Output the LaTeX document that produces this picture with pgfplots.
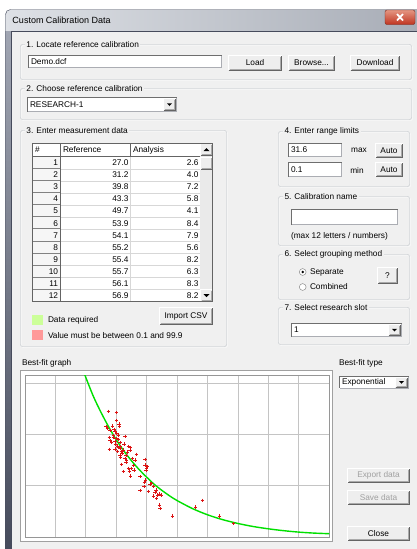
\documentclass[border=0pt]{standalone}
\usepackage{pgfplots}
\pgfplotsset{compat=1.18}
\usepackage{fontspec}
\setmainfont{Liberation Sans}
\definecolor{bg}{RGB}{240,240,240}
\definecolor{grp}{RGB}{188,192,198}
\definecolor{fldc}{RGB}{171,173,179}
\definecolor{flddk}{RGB}{110,110,110}
\definecolor{btnface}{RGB}{238,238,238}
\definecolor{btndk}{RGB}{100,100,100}
\definecolor{btnmid}{RGB}{170,170,170}
\definecolor{fitgreen}{RGB}{0,224,0}
\definecolor{ptred}{RGB}{220,20,20}
\definecolor{tbl}{RGB}{222,225,230}
\definecolor{tbr}{RGB}{165,170,180}
\definecolor{framec}{RGB}{160,165,178}
\definecolor{framedk}{RGB}{70,75,92}
\definecolor{gridc}{RGB}{196,196,196}
\definecolor{reqgreen}{RGB}{204,255,153}
\definecolor{badred}{RGB}{255,153,153}
\definecolor{closetop}{RGB}{228,150,130}
\definecolor{closebot}{RGB}{192,52,32}
\definecolor{closedk}{RGB}{120,40,30}
\definecolor{rowln}{RGB}{215,215,215}
\definecolor{celldk}{RGB}{130,130,130}
\definecolor{numbg}{RGB}{246,246,246}
\definecolor{trk}{RGB}{234,234,234}
\definecolor{radc}{RGB}{120,120,120}
\definecolor{disab}{RGB}{160,160,160}
\definecolor{gframe}{RGB}{160,160,160}
\definecolor{axc}{RGB}{150,150,150}
\newcommand\ui{\fontsize{8.3}{10}\selectfont}
% button: [text colour]{x1}{y1}{x2}{y2}{text}
\newcommand\btn[6][black]{%
  \fill[btnface] (#2,#3) rectangle (#4,#5);
  \draw[white] (#2+0.5,#5-0.5) -- (#2+0.5,#3+0.5) -- (#4-0.5,#3+0.5);
  \draw[btndk] (#2+0.5,#5-0.5) -- (#4-0.5,#5-0.5) -- (#4-0.5,#3+0.5);
  \draw[btnmid] (#2+1.5,#5-1.5) -- (#4-1.5,#5-1.5) -- (#4-1.5,#3+1.5);
  \node[text=#1] at ({(#2+#4)/2},{(#3+#5)/2}) {#6};
}
% field: {x1}{y1}{x2}{y2}{text}
\newcommand\fld[5]{%
  \fill[white] (#1,#2) rectangle (#3,#4);
  \draw[fldc] (#1+0.5,#4-0.5) -- (#3-0.5,#4-0.5) -- (#3-0.5,#2+0.5);
  \draw[flddk] (#1+0.5,#4-0.5) -- (#1+0.5,#2+0.5) -- (#3-0.5,#2+0.5);
  \node[anchor=west] at (#1+3,{(#2+#4)/2}) {#5};
}
% combo
\newcommand\combo[5]{%
  \fld{#1}{#2}{#3}{#4}{#5}
  \btn{#3-14}{#2+1}{#3-1}{#4-1}{}
  \fill[black] (#3-10,{(#2+#4)/2-1.2}) -- (#3-5,{(#2+#4)/2-1.2}) -- (#3-7.5,{(#2+#4)/2+1.5}) -- cycle;
}
% group box
\newcommand\grp[5]{%
  \draw[white,rounded corners=2pt] (#1+1.5,#2+1.5) rectangle (#3+0.5,#4+0.5);
  \draw[grp,rounded corners=2pt] (#1+0.5,#2+0.5) rectangle (#3-0.5,#4-0.5);
  \node[anchor=west,fill=bg,inner xsep=1.5pt,inner ysep=1pt] at (#1+5,#2+0.5) {#5};
}
\begin{document}
\begin{tikzpicture}
\begin{scope}[x=1pt,y=-1pt,every node/.style={font=\ui,inner sep=0pt,outer sep=0pt}]
\path[use as bounding box] (0,0) rectangle (417,549);
\fill[white] (0,0) rectangle (417,549);
% window frame
\shade[left color=tbl,right color=tbr,rounded corners=5pt] (5,9.5) rectangle (440,570);
\shade[top color=framec,bottom color=framedk] (5,31) rectangle (11,549);
\draw[framedk,rounded corners=5pt] (5.5,570) -- (5.5,9.5) -- (440,9.5);
\fill[bg] (11,31) rectangle (417,549);
\draw[framedk] (11,549) -- (11,31) -- (417,31);
\node[anchor=west,font=\fontsize{9}{11}\selectfont] at (12.5,20.5) {Custom Calibration Data};
% close button
\shade[top color=closetop,bottom color=closebot,rounded corners=2pt] (385,10) rectangle (415,24.5);
\draw[closedk,rounded corners=2pt] (385,10) rectangle (415,24.5);
\draw[white,line width=1.7pt] (397,14) -- (403,20.5) (403,14) -- (397,20.5);

% group 1
\grp{20}{44}{412}{80}{1. Locate reference calibration}
\fld{28}{55}{222}{68}{Demo.dcf}
\btn{228}{55}{282}{70.5}{Load}
\btn{288}{55}{335}{70.5}{Browse...}
\btn{350}{55}{400}{70.5}{Download}
% group 2
\grp{20}{88}{412}{120}{2. Choose reference calibration}
\combo{27}{97}{177}{112}{RESEARCH-1}
% group 3
\grp{20}{130}{227}{347}{3. Enter measurement data}
\fill[white] (32,143) rectangle (213,302);
\fill[numbg] (32,156.7) rectangle (60,302);
\foreach \i in {1,...,12} {
  \pgfmathsetmacro\yl{156.7+\i*12.08}
  \draw[rowln] (60,\yl) -- (200,\yl);
  \draw[celldk,line width=0.9pt] (33,\yl-0.3) -- (60,\yl-0.3);
}
\draw[rowln] (130.5,156.7) -- (130.5,302);
\draw[btndk] (130.5,143) -- (130.5,156.7);
\draw[btndk] (60.5,143) -- (60.5,302);
\draw[btndk] (32,156.5) -- (200,156.5);
\node[anchor=west] at (35,150) {\#};
\node[anchor=west] at (63,150) {Reference};
\node[anchor=west] at (133,150) {Analysis};
\foreach \n/\r/\a in {1/27.0/2.6,2/31.2/4.0,3/39.8/7.2,4/43.3/5.8,5/49.7/4.1,6/53.9/8.4,7/54.1/7.9,8/55.2/5.6,9/55.4/8.2,10/55.7/6.3,11/56.1/8.3,12/56.9/8.2} {
  \pgfmathsetmacro\yc{156.7+(\n-0.5)*12.08}
  \node[anchor=east] at (58,\yc) {\n};
  \node[anchor=east] at (128.5,\yc) {\r};
  \node[anchor=east] at (198.5,\yc) {\a};
}
% scrollbar
\fill[trk] (200,143) rectangle (213,302);
\btn{200}{143}{213}{156}{}
\fill[black] (203.5,151.2) -- (209.5,151.2) -- (206.5,148) -- cycle;
\btn{200}{156.5}{213}{170}{}
\btn{200}{289}{213}{302}{}
\fill[black] (203.5,294) -- (209.5,294) -- (206.5,297.2) -- cycle;
\draw[btndk] (32.5,143.5) rectangle (212.5,301.5);
% legend
\fill[reqgreen] (32,315) rectangle (43,325);
\fill[badred] (32,330) rectangle (43,340);
\node[anchor=west] at (48,320.5) {Data required};
\node[anchor=west] at (48,335.5) {Value must be between 0.1 and 99.9};
\btn{159}{307}{213}{325}{Import CSV}
% group 4
\grp{278}{131}{410}{187}{4. Enter range limits}
\fld{288}{143}{342}{157}{31.6}
\node at (359,150.5) {max};
\btn{375}{143}{403}{158}{Auto}
\fld{288}{162}{342}{177}{0.1}
\node at (357,170) {min};
\btn{375}{162}{403}{177}{Auto}
% group 5
\grp{278}{196}{410}{246}{5. Calibration name}
\fld{291}{209}{398}{225}{}
\node[anchor=west] at (291,236.5) {(max 12 letters / numbers)};
% group 6
\grp{278}{254}{410}{300}{6. Select grouping method}
\draw[fill=white,draw=radc] (302.7,272) circle (3.4);
\fill[black] (302.7,272) circle (1.4);
\draw[fill=white,draw=radc] (302.7,287) circle (3.4);
\node[anchor=west] at (310,272) {Separate};
\node[anchor=west] at (310,287) {Combined};
\btn{377}{267}{398}{284}{?}
% group 7
\grp{278}{307}{410}{345}{7. Select research slot}
\combo{291}{323}{402}{337}{1}
% bottom
\node[anchor=west] at (22,363) {Best-fit graph};
\node[anchor=west] at (339,363) {Best-fit type};
\combo{339}{376}{409}{388.5}{Exponential}
\btn[disab]{347}{468}{410}{483}{Export data}
\btn[disab]{347}{490}{410}{505}{Save data}
\btn{347}{526}{410}{541}{Close}
% graph frame
\fill[white] (20,370) rectangle (333,542);
\draw[gframe] (20.5,370.5) rectangle (332.5,541.5);
\end{scope}
\begin{axis}[at={(25pt,-537.3pt)},anchor=south west,scale only axis,
  width=304.3pt,height=162.3pt,
  xmin=0,xmax=10,ymin=0,ymax=31.6,
  xtick={1,2,3,4,5,6,7,8,9},ytick={10,20,30},
  xticklabels={},yticklabels={},
  major tick length=0pt,
  grid=major,major grid style={draw=gridc,line width=1pt},
  axis line style={draw=axc},
  axis background/.style={fill=white},
  clip=true]
\addplot[color=fitgreen,line width=1.4pt,smooth] coordinates {
(1.85,33.5)(2.0,31.1)(2.25,27.4)(2.5,24.3)(2.75,21.5)(3.0,19.0)(3.25,16.8)(3.5,14.9)(3.75,13.2)(4.0,11.7)(4.25,10.3)(4.5,9.13)(4.75,8.08)(5.0,7.15)(5.5,5.60)(6.0,4.38)(6.5,3.43)(7.0,2.69)(7.5,2.10)(8.0,1.65)(8.5,1.29)(9.0,1.01)(9.5,0.82)(10,0.70)};
\addplot[only marks,mark=+,mark size=1.7pt,color=ptred,line width=0.8pt] coordinates {
(2.739,24.52)(3.001,24.26)(3.012,22.71)(3.089,22.06)(3.100,21.67)(2.662,21.54)(2.706,21.15)(2.793,20.76)(2.925,21.02)(2.958,20.56)(3.067,19.92)(3.286,19.66)(2.903,19.85)(2.771,19.40)(2.793,18.81)(2.958,18.62)(3.067,19.07)(3.122,18.42)(2.980,18.10)(3.034,17.77)(3.067,17.51)(2.958,17.19)(2.771,17.13)(3.122,17.26)(3.396,17.71)(3.461,17.51)(3.451,17.00)(3.363,16.61)(3.177,16.74)(3.210,16.28)(3.122,16.02)(3.144,15.57)(3.319,15.96)(3.286,15.37)(3.670,16.15)(3.538,15.37)(3.341,14.92)(3.319,14.53)(3.177,14.21)(3.560,14.01)(3.407,13.43)(3.505,13.43)(3.582,13.10)(3.231,12.78)(3.429,12.91)(3.472,11.93)(3.779,11.80)(3.943,15.18)(3.943,14.08)(4.020,13.75)(3.976,13.10)(3.954,11.16)(3.922,10.77)(4.108,10.38)(4.163,10.51)(4.217,9.86)(4.053,8.95)(3.779,9.14)(3.911,9.86)(4.305,9.21)(4.414,8.43)(4.217,8.04)(4.349,8.23)(4.491,8.23)(4.327,7.59)(4.414,6.29)(4.436,5.57)(4.853,4.15)(5.608,5.90)(5.839,7.20)(6.397,4.15)(6.846,2.65)(3.012,20.24)(2.848,18.49)(2.903,19.46)(3.253,18.16)(3.034,16.67)(2.881,21.67)(2.990,19.27)(3.144,17.64)(3.231,17.00)(3.615,15.05)(3.998,13.43)(4.272,8.69)};
\end{axis}
\end{tikzpicture}
\end{document}
